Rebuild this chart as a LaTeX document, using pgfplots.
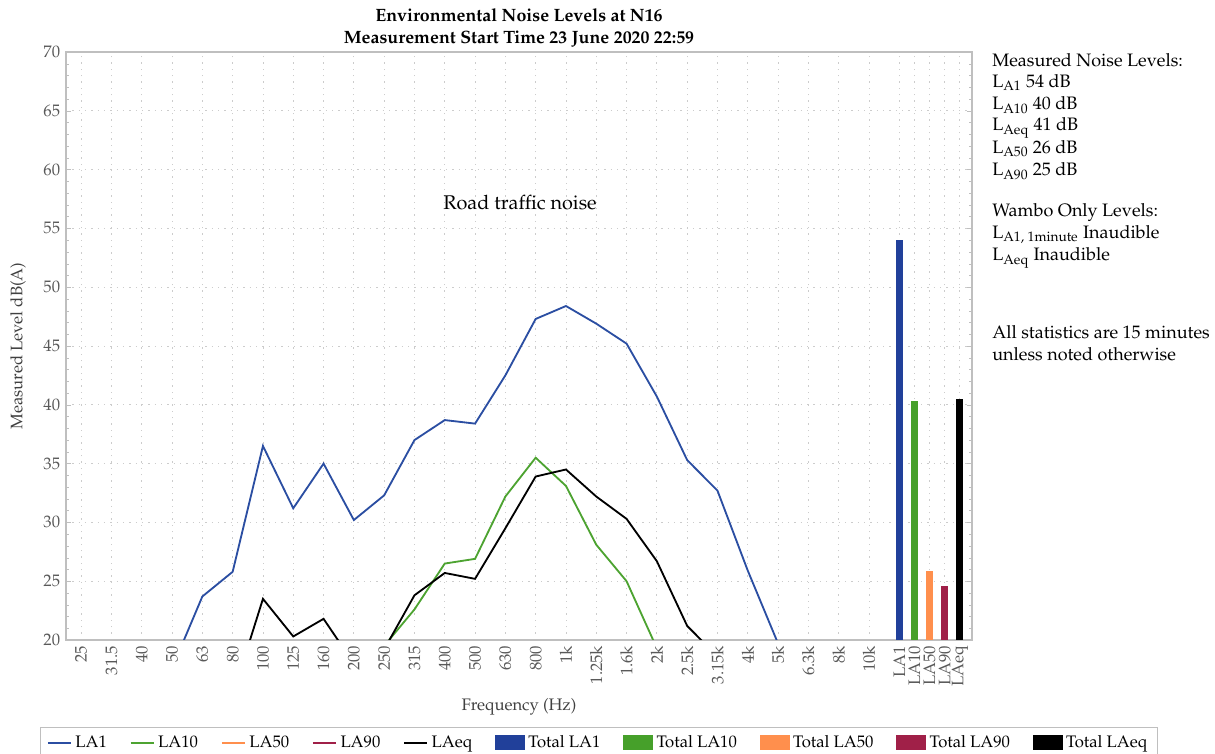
\documentclass[border=0pt]{standalone}
\usepackage[T1]{fontenc}
\usepackage{mathpazo}
\usepackage{pgfplots}
\pgfplotsset{compat=1.18}
\usepackage{pgfplotstable}

\definecolor{laoneline}{HTML}{2B4EA2}
\definecolor{laonebar}{HTML}{21409A}
\definecolor{latenline}{HTML}{4DA331}
\definecolor{latenbar}{HTML}{46A02A}
\definecolor{lafifty}{HTML}{FF8F4D}
\definecolor{laninety}{HTML}{A02048}
\definecolor{axgray}{HTML}{BFBFBF}

\pgfplotsset{
  lineleg/.style={legend image code/.code={\draw[##1] (0pt,0pt) -- (14pt,0pt);}},
  barleg/.style={legend image code/.code={\fill[#1] (0pt,-4.5pt) rectangle (18pt,4.5pt);}},
}

\pgfplotstableread{
x y
0 14
1 15
2 16
3 17.6
4 23.7
5 25.8
6 36.5
7 31.2
8 35.0
9 30.2
10 32.3
11 37.0
12 38.7
13 38.4
14 42.5
15 47.3
16 48.4
17 46.9
18 45.2
19 40.7
20 35.3
21 32.7
22 25.9
23 19.7
24 15
25 14
26 13
}\laone

\pgfplotstableread{
x y
9 16
10 19.5
11 22.6
12 26.5
13 26.9
14 32.2
15 35.5
16 33.1
17 28.1
18 25.0
19 19.3
20 15
}\laten

\pgfplotstableread{
x y
4 14
5 15.3
6 23.5
7 20.3
8 21.8
9 18.0
10 19.2
11 23.8
12 25.7
13 25.2
14 29.5
15 33.9
16 34.5
17 32.2
18 30.3
19 26.7
20 21.2
21 18.6
22 15
}\laeq

\begin{document}
\begin{tikzpicture}
\useasboundingbox (-39.6pt,-68.4pt) rectangle (689.4pt,384pt);
\begin{axis}[
  name=main, at={(0pt,0pt)}, anchor=south west,
  scale only axis, width=543.6pt, height=352.8pt,
  xmin=-0.5, xmax=29.4, ymin=20, ymax=70,
  xtick={0,1,2,3,4,5,6,7,8,9,10,11,12,13,14,15,16,17,18,19,20,21,22,23,24,25,26,27,27.5,28,28.5,29},
  xticklabels={25,31.5,40,50,63,80,100,125,160,200,250,315,400,500,630,800,1k,1.25k,1.6k,2k,2.5k,3.15k,4k,5k,6.3k,8k,10k,LA1,LA10,LA50,LA90,LAeq},
  xticklabel style={rotate=90, anchor=east, font=\normalsize, text=black!65},
  xtick style={draw=none},
  ytick distance=5, minor y tick num=4,
  ytick pos=both, tick align=inside,
  major tick length=3pt, minor tick length=2pt,
  ytick style={axgray}, minor tick style={axgray},
  yticklabel style={font=\normalsize, text=black!65},
  grid=major,
  major grid style={gray!40, line width=0.5pt, dash pattern=on 0.8pt off 3pt},
  axis line style={axgray, line width=0.8pt},
  xlabel={Frequency (Hz)},
  xlabel style={at={(axis description cs:0.5,-0.114)}, anchor=center, text=black!75},
  ylabel={Measured Level dB(A)},
  ylabel style={at={(axis description cs:-0.053,0.5)}, anchor=center, text=black!75},
  legend style={at={(axis description cs:0.588,-0.148)}, anchor=north,
    legend columns=10, draw=axgray, font=\normalsize, inner xsep=4pt, inner ysep=3pt,
    /tikz/every even column/.append style={column sep=11.7pt}},
  legend cell align=left,
]
\addplot[color=laoneline, line width=1.1pt, mark=none, lineleg] table[x=x,y=y] {\laone};
\addlegendentry{LA1}
\addplot[color=latenline, line width=1.1pt, mark=none, lineleg] table[x=x,y=y] {\laten};
\addlegendentry{LA10}
\addlegendimage{color=lafifty, line width=1.1pt, lineleg}
\addlegendentry{LA50}
\addlegendimage{color=laninety, line width=1.1pt, lineleg}
\addlegendentry{LA90}
\addplot[color=black, line width=1.1pt, mark=none, lineleg] table[x=x,y=y] {\laeq};
\addlegendentry{LAeq}

\addplot[ybar, bar width=4.2pt, bar shift=0pt, fill=laonebar, draw=none, barleg=laonebar] coordinates {(27,54.0)};
\addlegendentry{Total LA1}
\addplot[ybar, bar width=4.2pt, bar shift=0pt, fill=latenbar, draw=none, barleg=latenbar] coordinates {(27.5,40.3)};
\addlegendentry{Total LA10}
\addplot[ybar, bar width=4.2pt, bar shift=0pt, fill=lafifty, draw=none, barleg=lafifty] coordinates {(28,25.9)};
\addlegendentry{Total LA50}
\addplot[ybar, bar width=4.2pt, bar shift=0pt, fill=laninety, draw=none, barleg=laninety] coordinates {(28.5,24.6)};
\addlegendentry{Total LA90}
\addplot[ybar, bar width=4.2pt, bar shift=0pt, fill=black, draw=none, barleg=black] coordinates {(29,40.5)};
\addlegendentry{Total LAeq}
\end{axis}

% title
\node[anchor=base, font=\fontsize{10.7}{13}\selectfont\bfseries] at (271.8pt,370.8pt) {Environmental Noise Levels at N16};
\node[anchor=base, font=\fontsize{10.7}{13}\selectfont\bfseries] at (271.8pt,357.6pt) {Measurement Start Time 23 June 2020 22:59};
% annotation
\node[anchor=center, font=\fontsize{11.9}{14}\selectfont] at (272.4pt,262.2pt) {Road traffic noise};
% right text
\begin{scope}[every node/.style={anchor=base west, inner sep=0pt, font=\fontsize{10.8}{13}\selectfont}]
\node at (555.6pt,344.1pt) {Measured Noise Levels:};
\node at (555.6pt,331.5pt) {L\textsubscript{A1} 54 dB};
\node at (555.6pt,318.0pt) {L\textsubscript{A10} 40 dB};
\node at (555.6pt,305.4pt) {L\textsubscript{Aeq} 41 dB};
\node at (555.6pt,291.9pt) {L\textsubscript{A50} 26 dB};
\node at (555.6pt,278.4pt) {L\textsubscript{A90} 25 dB};
\node at (555.6pt,254.1pt) {Wambo Only Levels:};
\node at (555.6pt,240.9pt) {L\textsubscript{A1, 1minute} Inaudible};
\node at (555.6pt,227.4pt) {L\textsubscript{Aeq} Inaudible};
\node at (555.6pt,180.6pt) {All statistics are 15 minutes};
\node at (555.6pt,167.4pt) {unless noted otherwise};
\end{scope}
\end{tikzpicture}
\end{document}
